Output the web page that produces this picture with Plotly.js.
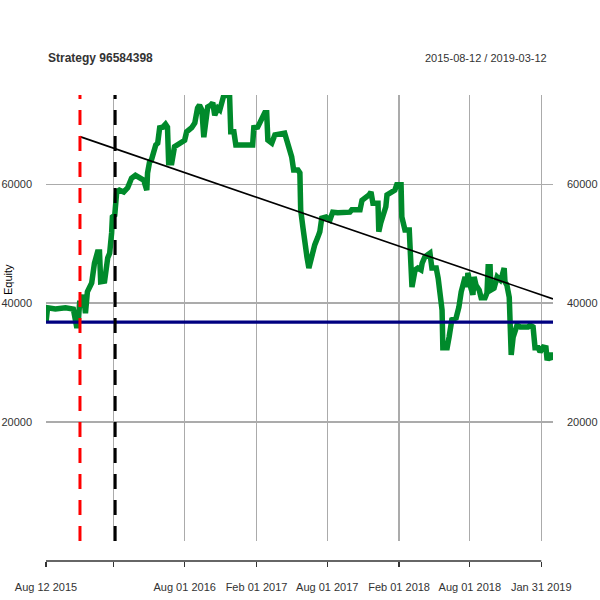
<!DOCTYPE html>
<html>
<head>
<meta charset="utf-8">
<script src="https://cdn.plot.ly/plotly-3.0.1.min.js"></script>
<style>html,body{margin:0;padding:0;background:#fff;}#chart{width:600px;height:600px;}</style>
</head>
<body>
<div id="chart"></div>
<script>
// ---- data ----
const equityDates = [
"2015-08-12","2015-08-16","2015-09-05","2015-10-01","2015-10-21","2015-10-27","2015-10-29","2015-11-02","2015-11-06","2015-11-11",
"2015-11-16","2015-11-21","2015-11-26","2015-12-07","2015-12-14","2015-12-22","2015-12-27","2015-12-30","2016-01-09","2016-01-17",
"2016-01-22","2016-01-27","2016-01-29","2016-02-04","2016-02-09","2016-02-16","2016-02-27","2016-03-08","2016-03-18","2016-03-28",
"2016-04-08","2016-04-18","2016-04-26","2016-04-28","2016-05-03","2016-05-08","2016-05-19","2016-05-24","2016-05-29","2016-06-06",
"2016-06-13","2016-06-18","2016-06-21","2016-06-29","2016-07-06","2016-07-19","2016-08-01","2016-08-06","2016-08-19","2016-08-27",
"2016-09-03","2016-09-08","2016-09-14","2016-09-19","2016-09-24","2016-09-29","2016-10-07","2016-10-12","2016-10-17","2016-10-25",
"2016-10-30","2016-11-04","2016-11-09","2016-11-24","2016-11-27","2016-12-05","2016-12-10","2017-01-22","2017-01-25","2017-02-04",
"2017-02-12","2017-02-22","2017-02-27","2017-03-02","2017-03-12","2017-03-20","2017-04-14","2017-04-19","2017-04-27","2017-05-02",
"2017-05-07","2017-05-18","2017-05-23","2017-05-25","2017-05-31","2017-06-05","2017-06-10","2017-06-15","2017-06-23","2017-06-30",
"2017-07-08","2017-07-13","2017-07-18","2017-07-29","2017-08-08","2017-08-15","2017-08-28","2017-09-28","2017-10-03","2017-10-24",
"2017-10-29","2017-11-08","2017-11-16","2017-11-21","2017-11-26","2017-12-09","2017-12-11","2017-12-16","2017-12-24","2017-12-29",
"2018-01-01","2018-01-09","2018-01-16","2018-01-21","2018-01-26","2018-02-06","2018-02-08","2018-02-16","2018-02-27","2018-03-01",
"2018-03-06","2018-03-14","2018-03-21","2018-03-29","2018-04-01","2018-04-08","2018-04-21","2018-04-26","2018-05-07","2018-05-12",
"2018-05-17","2018-05-22","2018-05-24","2018-06-04","2018-06-09","2018-06-16","2018-06-27","2018-07-04","2018-07-10","2018-07-15",
"2018-07-20","2018-07-25","2018-07-27","2018-08-04","2018-08-09","2018-08-12","2018-08-17","2018-08-25","2018-08-30","2018-09-09",
"2018-09-14","2018-09-17","2018-09-22","2018-09-24","2018-10-02","2018-10-10","2018-10-18","2018-10-23","2018-10-28","2018-10-30",
"2018-11-04","2018-11-10","2018-11-12","2018-11-15","2018-11-20","2018-11-25","2018-11-30","2018-12-08","2018-12-28","2019-01-02",
"2019-01-10","2019-01-15","2019-01-23","2019-01-28","2019-02-05","2019-02-12","2019-02-15","2019-02-23","2019-02-28"
];
const equityValues = [
36800,39200,39000,39200,39000,37500,36200,36200,40000,40000,
41400,38300,41900,43400,46700,48600,48600,43600,43700,47600,
48400,51800,54500,54800,58700,59000,58700,59400,61000,61500,
61000,60700,59000,61900,63700,64100,66600,66900,69500,69600,
70100,69600,63600,63600,66300,66900,67400,68800,69500,70300,
72800,73300,72500,67900,71600,73000,73300,73700,71600,72800,
72500,74200,74900,74900,68800,68800,66600,66600,69500,69600,
70800,72000,72000,67400,66900,68300,68600,67400,66100,64600,
62400,62400,61900,55700,52600,49300,47800,45900,48400,49800,
51100,52000,54300,54500,54000,55300,55200,55300,55700,55700,
57300,57700,58200,58700,56800,56800,52000,53500,54800,56200,
58200,58500,58700,59000,59900,59900,54500,52300,52300,50100,
42700,45600,45900,45600,46700,47800,48400,45900,45900,44200,
41000,38800,32500,32500,34300,37200,37500,39300,41900,43400,
44400,42700,45100,42500,41400,44400,43000,42200,40900,40900,
41700,46100,46100,42200,42500,44400,43900,44700,45900,43600,
43000,41000,37200,31300,34300,35800,36300,36000,36000,36300,
36000,32500,32500,31800,32600,32500,30400,31600,30400
];
const startEquity = 36800;             // blue reference line
const trendDates = ["2015-11-07","2019-03-02"];
const trendValues = [68000, 40700];
const redMarkerDate = "2015-11-07";
const blackMarkerDate = "2016-02-05";
const xRange = ["2015-08-12","2019-03-02"];
const yRange = [0, 75000];
const xTickDates = ["2015-08-12","2016-02-01","2016-08-01","2017-02-01","2017-08-01","2018-02-01","2018-08-01","2019-01-31"];
const xTickLabels = ["Aug 12 2015","","Aug 01 2016","Feb 01 2017","Aug 01 2017","Feb 01 2018","Aug 01 2018","Jan 31 2019"];
const yTickVals = [20000, 40000, 60000];
const yTickLabels = ["20000","40000","60000"];
const titleText = "Strategy 96584398";
const periodText = "2015-08-12 / 2019-03-12";
const yTitle = "Equity";

// ---- chart ----
const FONT = "Liberation Sans, Arial, sans-serif";
const traces = [
  {x: equityDates, y: equityValues, type: "scatter", mode: "lines",
   line: {color: "#008A2B", width: 5.5}, hoverinfo: "skip"},
  {x: xRange, y: [startEquity, startEquity], type: "scatter", mode: "lines",
   line: {color: "#000080", width: 3.2}, hoverinfo: "skip"},
  {x: trendDates, y: trendValues, type: "scatter", mode: "lines",
   line: {color: "#000000", width: 1.6}, hoverinfo: "skip"},
  {x: [redMarkerDate, redMarkerDate], y: yRange, type: "scatter", mode: "lines",
   line: {color: "#FF0000", width: 3, dash: "15px,11px"}, hoverinfo: "skip"},
  {x: [blackMarkerDate, blackMarkerDate], y: yRange, type: "scatter", mode: "lines",
   line: {color: "#000000", width: 3, dash: "15px,11px"}, hoverinfo: "skip"},
  {x: xTickDates, y: xTickDates.map(() => null), xaxis: "x2", yaxis: "y2",
   type: "scatter", mode: "lines", showlegend: false, hoverinfo: "skip"}
];

const domainStart = 20 / 466;
const layout = {
  width: 600, height: 600,
  margin: {l: 46, r: 47, t: 95, b: 39, pad: 0},
  paper_bgcolor: "#ffffff", plot_bgcolor: "#ffffff",
  showlegend: false,
  font: {family: FONT, size: 11, color: "#333333"},
  xaxis: {type: "date", range: xRange, tickvals: xTickDates, showticklabels: false,
          showgrid: true, gridcolor: "#ababab", gridwidth: 1.3, zeroline: false,
          showline: false, ticks: "", fixedrange: true},
  xaxis2: {type: "date", range: xRange, overlaying: "x", anchor: "free", position: 0,
           tickvals: xTickDates, ticktext: xTickLabels, ticks: "outside", ticklen: 5,
           tickwidth: 1.3, tickcolor: "#333333", showgrid: false, showline: false, zeroline: false,
           tickfont: {family: FONT, size: 11, color: "#333333"}, ticklabelstandoff: 11},
  yaxis: {range: yRange, domain: [domainStart, 1], tickvals: yTickVals, ticktext: yTickLabels,
          showgrid: true, gridcolor: "#ababab", gridwidth: 1.3, zeroline: false, showline: false,
          ticks: "", ticklabelstandoff: 13, tickfont: {family: FONT, size: 11, color: "#333333"}},
  yaxis2: {range: yRange, overlaying: "y", side: "right", anchor: "x", tickvals: yTickVals,
           ticktext: yTickLabels, showgrid: false, zeroline: false, showline: false, ticks: "",
           ticklabelstandoff: 13, tickfont: {family: FONT, size: 11, color: "#333333"}},
  shapes: [
    {type: "line", xref: "x", yref: "paper", x0: xTickDates[0], x1: xTickDates[xTickDates.length - 1],
     y0: 0, y1: 0, line: {color: "#333333", width: 1.3}}
  ],
  annotations: [
    {text: "<b>" + titleText + "</b>", xref: "paper", yref: "paper", x: 0, y: (561 - 58) / 466,
     xanchor: "left", yanchor: "middle", showarrow: false,
     font: {family: FONT, size: 12, color: "#333333"}},
    {text: periodText, xref: "paper", yref: "paper", x: (549 - 46) / 507, y: (561 - 58) / 466,
     xanchor: "right", yanchor: "middle", showarrow: false,
     font: {family: FONT, size: 11, color: "#333333"}},
    {text: yTitle, xref: "paper", yref: "paper", x: (8 - 46) / 507, y: (561 - 280) / 466,
     xanchor: "center", yanchor: "middle", textangle: -90, showarrow: false,
     font: {family: FONT, size: 11, color: "#000000"}}
  ]
};
Plotly.newPlot("chart", traces, layout, {staticPlot: true, displayModeBar: false});
</script>
</body>
</html>
